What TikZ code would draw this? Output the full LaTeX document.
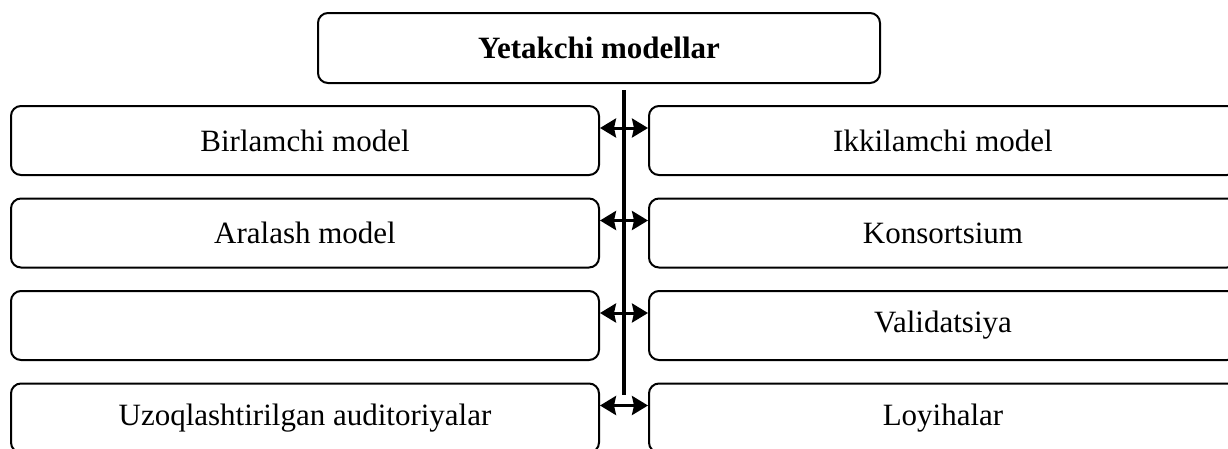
\documentclass[tikz,border=0pt]{standalone}
\usepackage{fontspec}
\setmainfont{Liberation Serif}
\usetikzlibrary{arrows.meta}
\begin{document}
\begin{tikzpicture}[x=1pt,y=-1pt,
  box/.style={draw,line width=2pt,rounded corners=10pt,minimum width=588pt,minimum height=69pt,inner sep=0pt,
    font=\fontsize{31}{36}\selectfont},
  topbox/.style={draw,line width=2pt,rounded corners=10pt,minimum width=562pt,minimum height=70pt,inner sep=0pt,
    font=\fontsize{31}{36}\selectfont\bfseries},
  tip/.tip={Stealth[length=16pt,width=19pt,inset=2pt]},
  link/.style={line width=3pt,tip-tip},
  spine/.style={line width=4pt}]
\useasboundingbox (0,0) rectangle (1228,448);
\clip (0,0) rectangle (1228,448);
\node[topbox] (top) at (599,48) {Yetakchi modellar};
\node[box] (L1) at (305,140.5) {Birlamchi model};
\node[box] (R1) at (943,140.5) {Ikkilamchi model};
\node[box] (L2) at (305,233) {Aralash model};
\node[box] (R2) at (943,233) {Konsortsium};
\node[box] (L3) at (305,325.5) {};
\node[box] (R3) at (943,325.5) {Validatsiya};
\node[box] (L4) at (305,418) {Uzoqlashtirilgan auditoriyalar};
\node[box] (R4) at (943,418) {Loyihalar};
\coordinate (s1) at (624,90);
\coordinate (s2) at (624,395);
\draw[spine] (s1) -- (s2);
\foreach \i in {1,2,3,4}{
  \draw[link] ([yshift=-23pt]L\i.north east) -- ([yshift=-23pt]R\i.north west);
}
\end{tikzpicture}
\end{document}
